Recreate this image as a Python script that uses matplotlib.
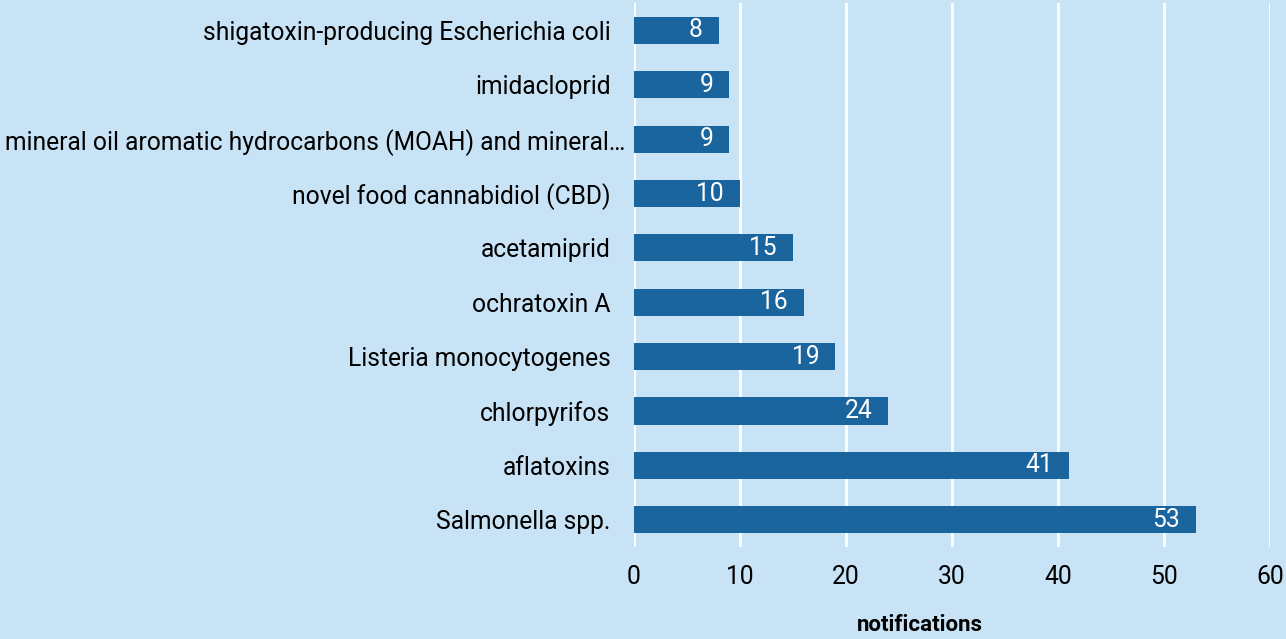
import matplotlib.pyplot as plt
from matplotlib.transforms import ScaledTranslation

plt.rcParams['font.family'] = ['Roboto', 'DejaVu Sans']

# categories from bottom to top
hazards = ['Salmonella spp.', 'aflatoxins', 'chlorpyrifos', 'Listeria monocytogenes',
           'ochratoxin A', 'acetamiprid', 'novel food cannabidiol (CBD)',
           'mineral oil aromatic hydrocarbons (MOAH) and mineral\u2026',
           'imidacloprid', 'shigatoxin-producing Escherichia coli']
notifications = [53, 41, 24, 19, 16, 15, 10, 9, 9, 8]
xticks = [0, 10, 20, 30, 40, 50, 60]

bg = '#c8e3f6'
bar_col = '#1b659e'

fig = plt.figure(figsize=[12.86, 6.39], dpi=100, facecolor=bg)
ax = fig.add_axes([0.493, 0.144, 0.4946, 0.851])
ax.set_facecolor(bg)

pos = list(range(len(hazards)))
ax.barh(pos, notifications, height=0.5, color=bar_col, zorder=3)
for p, v in zip(pos, notifications):
    ax.text(v - 1.5, p, str(v), color='white', fontsize=17.7, ha='right', va='center', zorder=4)

ax.set_xlim(0, 60)
ax.set_ylim(-0.5, 9.5)
ax.set_xticks(xticks)
ax.set_yticks(pos)
ax.set_yticklabels(hazards)
ax.tick_params(axis='both', length=0, labelsize=17.7, colors='black')
ax.tick_params(axis='x', pad=13)
ax.tick_params(axis='y', pad=17)
ax.grid(axis='x', color='white', linewidth=2, zorder=0)
for s in ax.spines.values():
    s.set_visible(False)

# the truncated label lets its ellipsis hang into the gap
for lab in ax.get_yticklabels():
    if lab.get_text().endswith('\u2026'):
        lab.set_transform(lab.get_transform() + ScaledTranslation(0.15, 0, fig.dpi_scale_trans))

fig.text(920 / 1286, 3 / 639, 'notifications', fontsize=16, fontweight='bold',
         ha='center', va='bottom')

fig.savefig('out.png', dpi=100, facecolor=bg)
